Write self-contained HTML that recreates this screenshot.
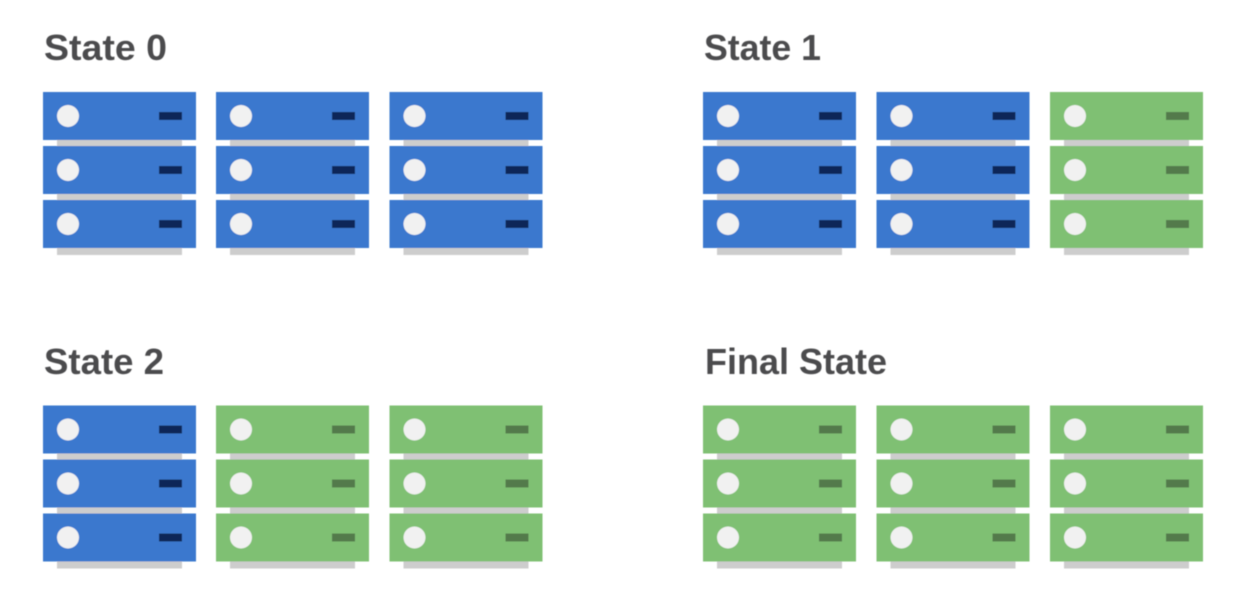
<!DOCTYPE html>
<html><head><meta charset="utf-8"><style>
html,body{margin:0;padding:0;background:#fff;width:1240px;height:614px;overflow:hidden}
svg{display:block}
text{font-family:"Liberation Sans",sans-serif;font-weight:bold;font-size:36px;fill:#4c4c4d}
</style></head><body>
<svg width="1240" height="614" viewBox="0 0 1240 614" xmlns="http://www.w3.org/2000/svg">
<defs>
<filter id="b" x="-5%" y="-5%" width="110%" height="110%"><feGaussianBlur stdDeviation="0.5"/></filter>
<g id="blue">
<rect x="14" y="46" width="125" height="8" fill="#cdcdcd"/><rect x="14" y="100" width="125" height="8" fill="#cdcdcd"/><rect x="14" y="156" width="125" height="7" fill="#cdcdcd"/>
<rect x="0" y="0" width="153" height="48" fill="#3a78ce"/><rect x="0" y="54" width="153" height="48" fill="#3a78ce"/><rect x="0" y="108" width="153" height="48" fill="#3a78ce"/>
<circle cx="25" cy="24" r="11" fill="#f1f1f1"/><circle cx="25" cy="78" r="11" fill="#f1f1f1"/><circle cx="25" cy="132" r="11" fill="#f1f1f1"/>
<rect x="116" y="20" width="23" height="8" fill="#0c2559"/><rect x="116" y="74" width="23" height="8" fill="#0c2559"/><rect x="116" y="128" width="23" height="8" fill="#0c2559"/>
</g>
<g id="green">
<rect x="14" y="46" width="125" height="8" fill="#cdcdcd"/><rect x="14" y="100" width="125" height="8" fill="#cdcdcd"/><rect x="14" y="156" width="125" height="7" fill="#cdcdcd"/>
<rect x="0" y="0" width="153" height="48" fill="#7fc073"/><rect x="0" y="54" width="153" height="48" fill="#7fc073"/><rect x="0" y="108" width="153" height="48" fill="#7fc073"/>
<circle cx="25" cy="24" r="11" fill="#f1f1f1"/><circle cx="25" cy="78" r="11" fill="#f1f1f1"/><circle cx="25" cy="132" r="11" fill="#f1f1f1"/>
<rect x="116" y="20" width="23" height="8" fill="#527a4c"/><rect x="116" y="74" width="23" height="8" fill="#527a4c"/><rect x="116" y="128" width="23" height="8" fill="#527a4c"/>
</g>
</defs>
<g filter="url(#b)">
<text x="44" y="60" textLength="123" lengthAdjust="spacingAndGlyphs">State 0</text>
<text x="704" y="60" textLength="117" lengthAdjust="spacingAndGlyphs">State 1</text>
<text x="44" y="374" textLength="120" lengthAdjust="spacingAndGlyphs">State 2</text>
<text x="705" y="374" textLength="182" lengthAdjust="spacingAndGlyphs">Final State</text>
<use href="#blue" x="43" y="92"/><use href="#blue" x="216" y="92"/><use href="#blue" x="389.500" y="92"/>
<use href="#blue" x="703" y="92"/><use href="#blue" x="876.500" y="92"/><use href="#green" x="1050" y="92"/>
<use href="#blue" x="43" y="405.500"/><use href="#green" x="216" y="405.500"/><use href="#green" x="389.500" y="405.500"/>
<use href="#green" x="703" y="405.500"/><use href="#green" x="876.500" y="405.500"/><use href="#green" x="1050" y="405.500"/>
</g>
</svg>
</body></html>
